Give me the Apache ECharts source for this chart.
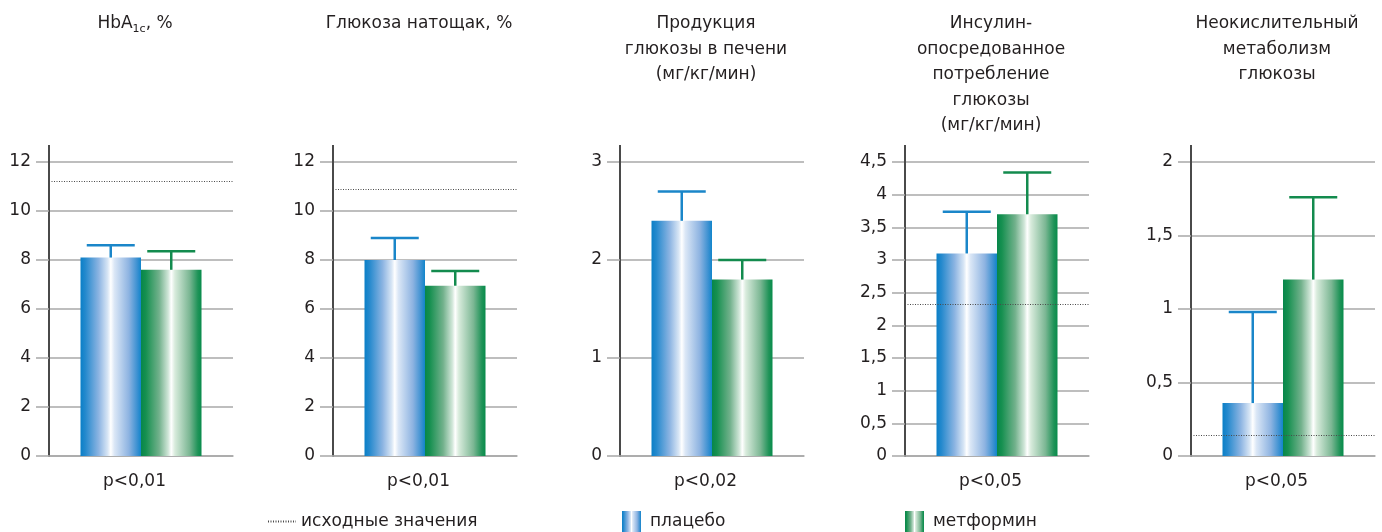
<!DOCTYPE html>
<html><head><meta charset="utf-8">
<script src="https://cdn.jsdelivr.net/npm/echarts@6/dist/echarts.min.js"></script>
<style>html,body{margin:0;padding:0;background:#fff}#c{width:1382px;height:532px}</style>
</head><body><div id="c"></div>
<script>
// ---- data ----
const panelTitles = ['HbA1c, %', 'Глюкоза натощак, %', 'Продукция\nглюкозы в печени\n(мг/кг/мин)', 'Инсулин-\nопосредованное\nпотребление\nглюкозы\n(мг/кг/мин)', 'Неокислительный\nметаболизм\nглюкозы'];
const pLabels = ['p<0,01', 'p<0,01', 'p<0,02', 'p<0,05', 'p<0,05'];
const placebo = [8.1, 8.0, 2.4, 3.1, 0.36];
const placeboSD = [0.5, 0.9, 0.3, 0.64, 0.62];
const metformin = [7.6, 6.95, 1.8, 3.7, 1.2];
const metforminSD = [0.76, 0.6, 0.2, 0.64, 0.56];
const baseline = [11.22, 10.9, null, 2.33, 0.14];
const yMax = [12, 12, 3, 4.5, 2];
const yStep = [2, 2, 1, 0.5, 0.5];
const seriesNames = ['исходные значения', 'плацебо', 'метформин'];

// ---- style ----
const FONT = 'DejaVu Sans';
const TXT = '#231f20';
const GRIDC = '#a8a8a8';
const gridLefts = [49, 333, 620, 905, 1191];
const GRID_W = 184, GRID_TOP = 162, GRID_H = 294;
const BAR_W = 60.5, CAP = 24;
const blueGrad = new echarts.graphic.LinearGradient(0, 0, 1, 0, [
  {offset: 0, color: '#0a7fc7'}, {offset: 0.08, color: '#2489cd'}, {offset: 0.3, color: '#8cb4e2'},
  {offset: 0.45, color: '#d8e6f5'}, {offset: 0.5, color: '#ffffff'}, {offset: 0.56, color: '#dbe7f6'},
  {offset: 0.8, color: '#8db3e1'}, {offset: 0.94, color: '#3a90d1'}, {offset: 1, color: '#1185cb'}]);
const greenGrad = new echarts.graphic.LinearGradient(0, 0, 1, 0, [
  {offset: 0, color: '#07864a'}, {offset: 0.08, color: '#169050'}, {offset: 0.3, color: '#72b18c'},
  {offset: 0.45, color: '#d0e6d8'}, {offset: 0.5, color: '#ffffff'}, {offset: 0.56, color: '#d8ebdc'},
  {offset: 0.8, color: '#7cb794'}, {offset: 0.94, color: '#1f9358'}, {offset: 1, color: '#078c4b'}]);
const BLUE_ERR = '#1a86c9', GREEN_ERR = '#138b4e';

function errRender(side, color) {
  return function (params, api) {
    const base = api.coord([api.value(0), api.value(1)]);
    const top = api.coord([api.value(0), api.value(2)]);
    const x = base[0] + side * BAR_W / 2;
    return {type: 'group', children: [
      {type: 'line', shape: {x1: x, y1: base[1], x2: x, y2: top[1]}, style: {stroke: color, lineWidth: 2.5}},
      {type: 'line', shape: {x1: x - CAP, y1: top[1], x2: x + CAP, y2: top[1]}, style: {stroke: color, lineWidth: 2.5}}
    ]};
  };
}

const grids = [], xAxes = [], yAxes = [], series = [], graphics = [];
for (let i = 0; i < 5; i++) {
  grids.push({left: gridLefts[i], top: GRID_TOP, width: GRID_W, height: GRID_H});
  xAxes.push({gridIndex: i, type: 'category', data: [pLabels[i]],
    axisLine: {show: true, lineStyle: {color: GRIDC, width: 1.5}}, axisTick: {show: false},
    axisLabel: {margin: 17, fontSize: 17, fontFamily: FONT, color: TXT, padding: [0, 13, 0, 0]}});
  yAxes.push({gridIndex: i, type: 'value', min: 0, max: yMax[i], interval: yStep[i],
    axisLine: {show: true, lineStyle: {color: '#4a4a4a', width: 2}, symbol: ['none', 'rect'], symbolSize: [2, 34]},
    axisTick: {show: true, length: 13, lineStyle: {color: GRIDC, width: 1.5}},
    splitLine: {show: true, lineStyle: {color: GRIDC, width: 1.5}},
    axisLabel: {margin: 18, fontSize: 17, fontFamily: FONT, color: TXT,
      formatter: v => String(v).replace('.', ',')}});
  const pb = {name: seriesNames[1], type: 'bar', xAxisIndex: i, yAxisIndex: i, data: [placebo[i]],
    barWidth: BAR_W, barGap: '0%', itemStyle: {color: blueGrad}, silent: true};
  if (baseline[i] !== null) {
    pb.markLine = {silent: true, symbol: 'none', label: {show: false}, z: 10,
      lineStyle: {color: '#4a4a4a', width: 1, type: [1, 1.5]}, data: [{yAxis: baseline[i]}]};
  }
  series.push(pb);
  series.push({name: seriesNames[2], type: 'bar', xAxisIndex: i, yAxisIndex: i, data: [metformin[i]],
    barWidth: BAR_W, barGap: '0%', itemStyle: {color: greenGrad}, silent: true});
  series.push({type: 'custom', xAxisIndex: i, yAxisIndex: i, z: 3, silent: true,
    data: [[0, placebo[i], placebo[i] + placeboSD[i]]], renderItem: errRender(-1, BLUE_ERR)});
  series.push({type: 'custom', xAxisIndex: i, yAxisIndex: i, z: 3, silent: true,
    data: [[0, metformin[i], metformin[i] + metforminSD[i]]], renderItem: errRender(1, GREEN_ERR)});

  const cx = gridLefts[i] + GRID_W / 2 - 6;
  const st = {x: cx, y: 11, style: {fill: TXT, fontFamily: FONT, fontSize: 17, lineHeight: 25.5,
    textAlign: 'center', textVerticalAlign: 'top'}};
  if (i === 0) {
    st.style.text = '{a|HbA}{s|1c}{a|, %}';
    st.style.rich = {
      a: {fontFamily: FONT, fontSize: 17, lineHeight: 25.5, verticalAlign: 'middle', fill: TXT},
      s: {fontFamily: FONT, fontSize: 11, lineHeight: 25.5, verticalAlign: 'bottom', fill: TXT, padding: [0, 0, 2, 0]}
    };
  } else {
    st.style.text = panelTitles[i];
  }
  graphics.push(Object.assign({type: 'text'}, st));
}
series.push({name: seriesNames[0], type: 'line', xAxisIndex: 0, yAxisIndex: 0, data: [], symbol: 'none',
  itemStyle: {color: '#4a4a4a'}, lineStyle: {color: '#4a4a4a', width: 1, type: [1, 1.5]}});

const legendText = {fontSize: 17, fontFamily: FONT, color: TXT};
const chart = echarts.init(document.getElementById('c'), null, {renderer: 'canvas'});
chart.setOption({
  animation: false,
  backgroundColor: '#fff',
  grid: grids, xAxis: xAxes, yAxis: yAxes, series: series,
  graphic: graphics,
  legend: [
    {data: [seriesNames[0]], left: 262, top: 508, itemWidth: 28, itemHeight: 21, selectedMode: false,
      itemStyle: {opacity: 0}, textStyle: legendText},
    {data: [seriesNames[1]], left: 617, top: 506, itemWidth: 19, itemHeight: 21, icon: 'rect', selectedMode: false,
      textStyle: Object.assign({padding: [0, 0, 0, 4]}, legendText)},
    {data: [seriesNames[2]], left: 900, top: 506, itemWidth: 19, itemHeight: 21, icon: 'rect', selectedMode: false,
      textStyle: Object.assign({padding: [0, 0, 0, 4]}, legendText)}
  ]
});
</script></body></html>
